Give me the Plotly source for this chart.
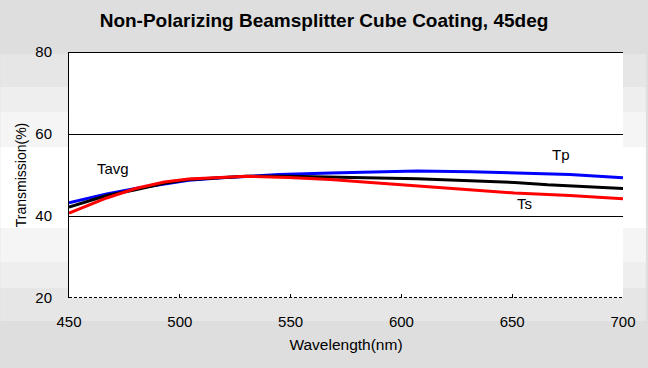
import plotly.graph_objects as go

# Data
wl_tp = [450, 467, 480, 491, 504, 519, 530, 545, 568, 592, 607, 631, 651, 676, 700]
tp = [43.2, 45.4, 46.7, 47.6, 48.7, 49.3, 49.7, 50.1, 50.5, 50.7, 51.0, 50.8, 50.5, 50.1, 49.3]

wl_tavg = [450, 467, 480, 493, 504, 519, 530, 549, 568, 592, 607, 631, 651, 666, 687, 700]
tavg = [42.2, 45.0, 46.4, 48.0, 48.9, 49.4, 49.7, 49.7, 49.5, 49.4, 49.1, 48.6, 48.2, 47.6, 47.0, 46.7]

wl_ts = [450, 467, 480, 493, 504, 519, 530, 549, 568, 583, 599, 623, 651, 676, 700]
ts = [40.7, 44.4, 46.7, 48.3, 49.0, 49.4, 49.7, 49.4, 48.9, 48.3, 47.6, 46.7, 45.6, 45.0, 44.2]

x_ticks = [450, 500, 550, 600, 650, 700]
y_ticks = [20, 40, 60, 80]

labels = [("Tavg", 470, 51.5), ("Tp", 672, 55.0), ("Ts", 655.5, 43.0)]

W, H = 648, 368
L, R, T, B = 69, 23, 52, 70
plot_h = H - T - B
Y_MIN, Y_MAX = 20, 80
half_px = 0.5 * (Y_MAX - Y_MIN) / plot_h  # keeps 1px grid lines crisp

# background bands (pixel rows -> paper coords)
bands = [(0, 54, "#dedede"), (54, 87, "#e6e6e6"), (87, 112, "#eeeeee"),
         (112, 147, "#f5f5f5"), (147, 228, "#ffffff"), (228, 262, "#f5f5f5"),
         (262, 288, "#eeeeee"), (288, 321, "#e6e6e6"), (321, 368, "#dedede")]

def py(p):
    return (H - B - p) / plot_h

pw = W - L - R
shapes = []
for a, b, c in bands:
    shapes.append(dict(type="rect", xref="paper", yref="paper",
                       x0=-L / pw, x1=1 + R / pw, y0=py(b), y1=py(a),
                       fillcolor=c, line_width=0, layer="below"))
shapes.append(dict(type="rect", xref="x", yref="y", x0=450, x1=700, y0=Y_MIN, y1=Y_MAX,
                   fillcolor="white", line_width=0, layer="below"))
for yv in y_ticks:
    yy = yv - half_px if yv != Y_MIN else yv + half_px
    shapes.append(dict(type="line", xref="x", yref="y", x0=450, x1=700, y0=yy, y1=yy,
                       line=dict(color="black", width=1,
                                 dash="3px,2px" if yv == Y_MIN else "solid"),
                       layer="below"))

fig = go.Figure()
fig.add_trace(go.Scatter(x=wl_tp, y=tp, mode="lines", line=dict(color="#0000ff", width=3), name="Tp"))
fig.add_trace(go.Scatter(x=wl_tavg, y=tavg, mode="lines", line=dict(color="black", width=3), name="Tavg"))
fig.add_trace(go.Scatter(x=wl_ts, y=ts, mode="lines", line=dict(color="#ff0000", width=3), name="Ts"))

for txt, xv, yv in labels:
    fig.add_annotation(x=xv, y=yv, text=txt, showarrow=False,
                       font=dict(family="Liberation Sans, Arial", size=15, color="black"))

fig.update_layout(
    width=W, height=H,
    margin=dict(l=L, r=R, t=T, b=B),
    paper_bgcolor="#dedede", plot_bgcolor="white",
    showlegend=False,
    shapes=shapes,
    title=dict(text="<b>Non-Polarizing Beamsplitter Cube Coating, 45deg</b>",
               x=0.5, xref="container", xanchor="center", y=1 - 20 / H, yanchor="middle",
               font=dict(family="Liberation Sans, Arial", size=19, color="black")),
    font=dict(family="Liberation Sans, Arial", size=14, color="black"),
    xaxis=dict(range=[450, 700], tickvals=x_ticks, ticks="inside", ticklen=4,
               tickcolor="black", showgrid=False, zeroline=False, showline=False,
               ticklabelstandoff=13, tickfont=dict(size=15),
               title=dict(text="Wavelength(nm)", standoff=10,
                          font=dict(size=15.5))),
    yaxis=dict(range=[Y_MIN, Y_MAX], tickvals=y_ticks, ticks="", showgrid=False,
               zeroline=False, showline=True, linecolor="black", linewidth=1,
               ticklabelstandoff=13, tickfont=dict(size=15),
               title=dict(text="Transmission(%)", standoff=5, font=dict(size=14))),
)

fig.write_html("out.html", config={"displayModeBar": False},
               post_script="document.body.style.margin='0';")
